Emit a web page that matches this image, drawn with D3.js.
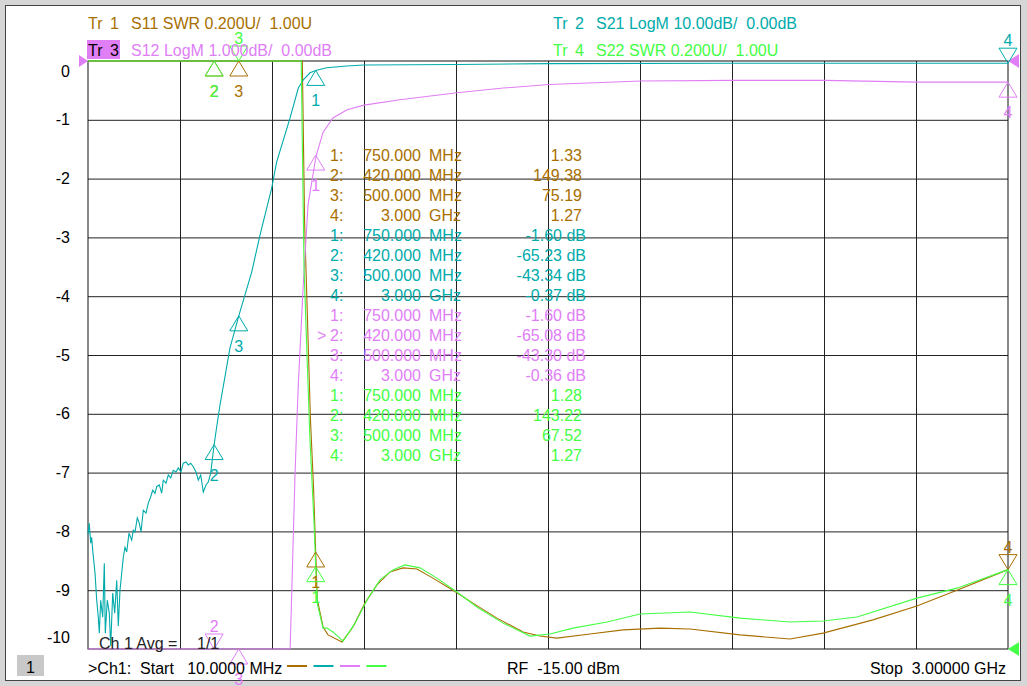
<!DOCTYPE html>
<html>
<head>
<meta charset="utf-8">
<script src="https://cdn.jsdelivr.net/npm/d3@7"></script>
<style>
  body { margin: 0; background: #d6d6d6; }
  svg { display: block; font-family: "Liberation Sans", Arial, sans-serif; font-size: 16px; }
  text { white-space: pre; }
</style>
</head>
<body>
<svg id="chart"></svg>
<script>
const WIDTH = 1027;
const HEIGHT = 686;

// sweep, MHz
const START = 10;
const STOP = 3000;

// Tr 1  S11 SWR
const s11Freq = [10, 200, 420, 500, 600, 680, 700, 706.5, 714, 733, 743, 750, 755, 774, 790, 835.5, 871, 910, 949, 991.5,
  1034, 1079, 1131, 1196, 1261, 1339, 1424, 1479, 1534, 1641.5, 1749, 1869, 1966.5, 2129, 2291.5, 2399, 2561, 2704, 2834, 3000];
const s11Swr = [240, 190, 149.38, 75.19, 28, 7, 4.2, 3.0, 2.45, 1.78, 1.55, 1.33, 1.17, 1.075, 1.048, 1.024, 1.075, 1.156, 1.218, 1.262,
  1.276, 1.272, 1.241, 1.2, 1.156, 1.105, 1.058, 1.044, 1.037, 1.051, 1.065, 1.071, 1.068, 1.048, 1.034, 1.054, 1.099, 1.146, 1.2, 1.27];

// Tr 2  S21 LogM
const s21Freq = [10, 14, 18.8, 22, 25.3, 32.8, 38.3, 43.5, 46.7, 51.3, 57.8, 63, 66.2, 72.7, 79.2, 83.8, 90.3, 96.8, 103.3, 108.5,
  114, 119.5, 124.7, 130.3, 135.8, 143.3, 152, 157.2, 162.8, 170.2, 176.7, 182.3, 189.7, 198.5, 206, 213.8, 220.3, 227.8, 233.3, 241.7,
  249.5, 254.7, 263.5, 271, 278.8, 287.2, 296, 303.5, 312.3, 319.7, 328.5, 336, 343.8, 352.2, 361, 368.5, 376.3, 384.7, 393.5, 401,
  408.8, 420, 428.3, 439, 471.5, 500, 542, 569, 607, 623, 666.5, 693.5, 709.7, 731.5, 750, 785.8, 850.8, 907, 1209, 1508, 2106, 3000];
const s21Db = [-80.5, -78.6, -82, -81, -83.2, -87.1, -91.7, -94.6, -97.3, -91.7, -94.6, -85.4, -97.3, -91.7, -93.9, -99.5, -90.5, -93.9, -88.3, -96.1,
  -90, -87.1, -84.4, -82.7, -83.5, -80.3, -81.5, -79.8, -80.1, -77.7, -78.6, -80.1, -76.4, -76.9, -75.2, -74.1, -73, -73.5, -72.4, -72.1,
  -73.5, -71.3, -71.8, -70.4, -70.9, -69.6, -69.9, -69.2, -69.9, -68.4, -68.2, -68.7, -68.4, -69, -69.9, -71.3, -70.4, -73.3, -72.1, -71.6,
  -70.1, -65.23, -62.2, -58.5, -48.8, -43.34, -35.9, -29.6, -21.6, -17.2, -9.7, -4.6, -3.2, -2.0, -1.60, -1.14, -0.85, -0.68, -0.6, -0.45, -0.38, -0.37];

// Tr 3  S12 LogM
const s12Freq = [10, 100, 200, 300, 420, 500, 600, 650, 667, 683, 693, 709, 725, 751, 774, 806, 852, 907, 1024, 1209, 1360, 1508, 1807, 2106, 2405, 2704, 3000];
const s12Db = [-82, -90, -76, -69, -65.08, -43.3, -24, -14, -10, -7.0, -5.56, -3.86, -2.45, -1.62, -1.21, -0.97, -0.83, -0.75, -0.66, -0.54, -0.46, -0.40, -0.34, -0.33, -0.33, -0.36, -0.36];

// Tr 4  S22 SWR
const s22Freq = [10, 200, 420, 500, 600, 680, 698, 703, 712, 731, 745, 750, 756, 774, 787, 806, 839, 878, 917, 959,
  1001, 1040, 1089, 1144, 1209, 1274, 1359, 1446.5, 1511.5, 1586, 1697, 1804, 1966.5, 2129, 2291.5, 2399, 2509, 2704, 2834, 3000];
const s22Swr = [220, 180, 143.22, 67.52, 25, 6, 3.8, 3.0, 2.3, 1.72, 1.42, 1.28, 1.15, 1.071, 1.071, 1.058, 1.027, 1.088, 1.167, 1.235,
  1.269, 1.286, 1.276, 1.241, 1.194, 1.143, 1.088, 1.044, 1.051, 1.071, 1.092, 1.119, 1.126, 1.105, 1.092, 1.095, 1.109, 1.173, 1.207, 1.27];

// markers
const markerFreqs = [750, 420, 500, 3000];
const s11Markers = [1.33, 149.38, 75.19, 1.27];
const s21Markers = [-1.60, -65.23, -43.34, -0.37];
const s12Markers = [-1.60, -65.08, -43.30, -0.36];
const s22Markers = [1.28, 143.22, 67.52, 1.27];
// 1 = triangle hangs below the point, -1 = sits above it
const s11Flip = [1, 1, 1, -1];
const s21Flip = [1, 1, 1, -1];
const s12Flip = [1, -1, 1, 1];
const s22Flip = [1, 1, -1, 1];

const yTicks = [0, -1, -2, -3, -4, -5, -6, -7, -8, -9, -10];

const L = 88, R = 1008, T = 61, B = 649;

const svg = d3.select('#chart').attr('width', WIDTH).attr('height', HEIGHT);

svg.append('rect')
  .attr('x', 5.5).attr('y', 5.5).attr('width', 1015).attr('height', 675)
  .attr('fill', '#fff').attr('stroke', '#444');

const x = d3.scaleLinear().domain([START, STOP]).range([L, R]);
const div = d3.scaleLinear().domain([0, -10]).range([T, B]);

const traces = [
  { id: 'Tr 1', n: '1', desc: 'S11 SWR 0.200U/  1.00U', color: '#a86f00', freq: s11Freq, vals: s11Swr,
    y: d3.scaleLinear().domain([1, 3]).range([B, T]).clamp(true), mk: s11Markers, flip: s11Flip, unit: '' },
  { id: 'Tr 2', n: '2', desc: 'S21 LogM 10.00dB/  0.00dB', color: '#00abab', freq: s21Freq, vals: s21Db,
    y: d3.scaleLinear().domain([0, -100]).range([T, B]).clamp(true), mk: s21Markers, flip: s21Flip, unit: ' dB' },
  { id: 'Tr 3', n: '3', desc: 'S12 LogM 1.000dB/  0.00dB', color: '#e07ef5', freq: s12Freq, vals: s12Db,
    y: d3.scaleLinear().domain([0, -10]).range([T, B]).clamp(true), mk: s12Markers, flip: s12Flip, unit: ' dB' },
  { id: 'Tr 4', n: '4', desc: 'S22 SWR 0.200U/  1.00U', color: '#44ff44', freq: s22Freq, vals: s22Swr,
    y: d3.scaleLinear().domain([1, 3]).range([B, T]).clamp(true), mk: s22Markers, flip: s22Flip, unit: '' }
];

//    Grid    ////////////////////////////////////////////

const grid = svg.append('g');

grid.append('g')
  .attr('transform', `translate(0,${B})`)
  .call(d3.axisBottom(x).tickValues(d3.range(1, 10).map(i => START + i * (STOP - START) / 10))
    .tickSize(B - T).tickFormat(''))
  .call(g => g.select('.domain').remove())
  .call(g => g.selectAll('line').attr('stroke', '#222').attr('y2', -(B - T)));

grid.append('g')
  .attr('transform', `translate(${L},0)`)
  .call(d3.axisLeft(div).tickValues(yTicks.slice(1, -1)).tickSize(-(R - L)).tickFormat(''))
  .call(g => g.select('.domain').remove())
  .call(g => g.selectAll('line').attr('stroke', '#222'));

grid.append('rect')
  .attr('x', L).attr('y', T).attr('width', R - L).attr('height', B - T)
  .attr('fill', 'none').attr('stroke', '#111');

svg.append('g').selectAll('text')
  .data(yTicks)
  .enter().append('text')
  .attr('x', 70)
  .attr('y', d => Math.min(Math.max(div(d), 71), 637))
  .attr('dy', '0.35em')
  .attr('text-anchor', 'end')
  .attr('fill', '#000')
  .text(d => d);

//    Traces    //////////////////////////////////////////

const traceG = svg.append('g');
traces.forEach(t => {
  const pts = t.freq.map((f, i) => [f, t.vals[i]]);
  traceG.append('path')
    .datum(pts)
    .attr('fill', 'none')
    .attr('stroke', t.color)
    .attr('stroke-width', 1.1)
    .attr('d', d3.line().x(d => x(d[0])).y(d => t.y(d[1])));
});

// reference position arrows
const refs = [
  { pts: [[79, 55], [88, 61], [79, 67]], color: '#e07ef5' },
  { pts: [[1019, 54], [1008, 61], [1019, 68]], color: '#e07ef5' },
  { pts: [[1019, 642], [1008, 649], [1019, 656]], color: '#44ff44' }
];
svg.append('g').selectAll('path')
  .data(refs)
  .enter().append('path')
  .attr('d', d => 'M' + d.pts.join('L') + 'Z')
  .attr('fill', d => d.color);

//    Markers    /////////////////////////////////////////

traces.forEach(t => {
  const g = svg.append('g');
  markerFreqs.forEach((f, i) => {
    const mx = x(f);
    const my = t.y(t.mk[i]);
    const s = t.flip[i];
    g.append('path')
      .attr('d', `M${mx},${my}L${mx - 9},${my + 15 * s}L${mx + 9},${my + 15 * s}Z`)
      .attr('fill', 'none')
      .attr('stroke', t.color);
    g.append('text')
      .attr('x', mx)
      .attr('y', s > 0 ? my + 36 : my - 17)
      .attr('text-anchor', 'middle')
      .attr('fill', t.color)
      .text(i + 1);
  });
});

//    Marker table    ////////////////////////////////////

const fmtFreq = f => f >= 1000 ? [(f / 1000).toFixed(3), 'GHz'] : [f.toFixed(3), 'MHz'];

const table = svg.append('g');
traces.forEach((t, ti) => {
  t.mk.forEach((v, i) => {
    const yy = 160.5 + 20 * (ti * 4 + i);
    const [fv, fu] = fmtFreq(markerFreqs[i]);
    const row = table.append('g').attr('fill', t.color);
    if (ti === 2 && i === 1) row.append('text').attr('x', 317).attr('y', yy).text('>');
    row.append('text').attr('x', 330).attr('y', yy).text(`${i + 1}:`);
    row.append('text').attr('x', 421).attr('y', yy).attr('text-anchor', 'end').text(fv);
    row.append('text').attr('x', 429).attr('y', yy).text(fu);
    row.append('text').attr('x', t.unit ? 586 : 582).attr('y', yy).attr('text-anchor', 'end')
      .text(v.toFixed(2) + t.unit);
  });
});

//    Header    ////////////////////////////////////////////

const header = svg.append('g');
traces.forEach((t, ti) => {
  const hx = ti % 2 === 0 ? 88 : 553;
  const hy = ti < 2 ? 29 : 56;
  const active = ti === 2;
  if (active) {
    header.append('rect').attr('x', 87).attr('y', 40).attr('width', 33).attr('height', 19).attr('fill', t.color);
  }
  header.append('text').attr('x', hx).attr('y', hy).attr('fill', active ? '#000' : t.color).text('Tr');
  header.append('text').attr('x', hx + 22).attr('y', hy).attr('fill', active ? '#000' : t.color).text(t.n);
  header.append('text').attr('x', hx + 43).attr('y', hy).attr('fill', t.color).text(t.desc);
});

//    Status lines    //////////////////////////////////////

svg.append('text').attr('x', 99).attr('y', 649).attr('fill', '#222').text('Ch 1 Avg =');
svg.append('text').attr('x', 197).attr('y', 649).attr('fill', '#222').text('1/1');

svg.append('rect').attr('x', 17).attr('y', 655).attr('width', 27).attr('height', 21).attr('fill', '#c8c8c8');
svg.append('text').attr('x', 30.5).attr('y', 673).attr('text-anchor', 'middle').attr('fill', '#000').text('1');

svg.append('text').attr('x', 88).attr('y', 674).attr('fill', '#000').text('>Ch1:  Start   10.0000 MHz');

svg.append('g').selectAll('line')
  .data(traces)
  .enter().append('line')
  .attr('x1', (d, i) => 287 + i * 26.5).attr('x2', (d, i) => 307 + i * 26.5)
  .attr('y1', 666).attr('y2', 666)
  .attr('stroke', d => d.color).attr('stroke-width', 2);

svg.append('text').attr('x', 507).attr('y', 674).attr('fill', '#000').text('RF  -15.00 dBm');
svg.append('text').attr('x', 1006).attr('y', 674).attr('text-anchor', 'end').attr('fill', '#000').text('Stop  3.00000 GHz');
</script>
</body>
</html>
